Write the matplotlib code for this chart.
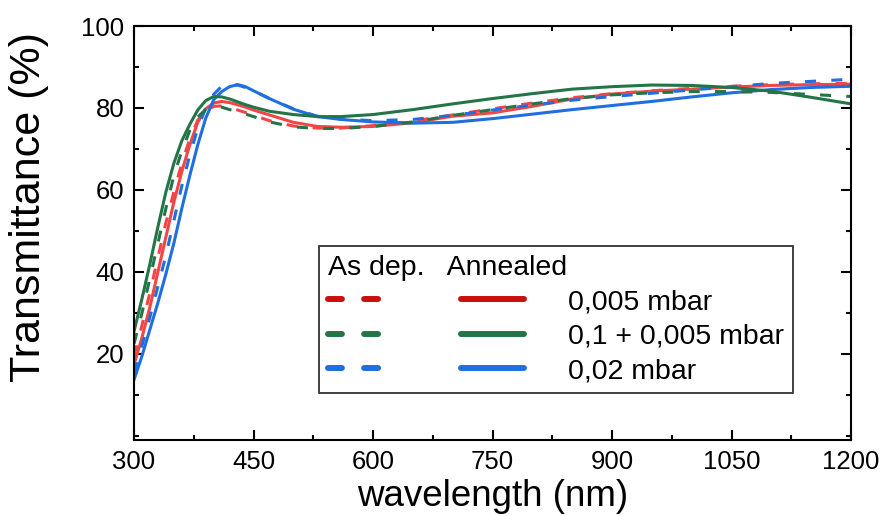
import matplotlib
matplotlib.use('Agg')
import matplotlib.pyplot as plt
from matplotlib.lines import Line2D
from matplotlib.legend_handler import HandlerTuple
from matplotlib.ticker import MultipleLocator

plt.rcParams['font.family'] = ['Liberation Sans', 'DejaVu Sans']

# wavelength grid (nm)
wavelength = [300, 310, 320, 330, 340, 350, 360, 370, 380, 390, 400, 410, 420, 430, 440, 450,
              470, 500, 530, 560, 600, 650, 700, 750, 800, 850, 900, 950, 1000, 1050, 1100, 1150, 1200]

# as deposited (dashed)
asdep_005 = [19.5, 27, 35, 43.5, 52, 59.5, 66.5, 72.5, 77, 79.3, 80.4, 80.5, 80.1, 79.5, 78.9, 78.2,
             76.9, 75.6, 75.1, 75.1, 75.7, 76.8, 78.3, 79.8, 81.2, 82.5, 83.5, 84.2, 84.8, 85.3, 85.7, 85.9, 86]
asdep_01 = [22.5, 30, 38.5, 47, 55.5, 63.5, 69.5, 74.5, 77.8, 79.6, 80.3, 80.2, 79.6, 79.2, 78.5, 77.9,
            76.6, 75.4, 75, 75, 75.5, 76.6, 78.2, 79.6, 81, 82.3, 83.2, 83.7, 84, 84, 83.8, 83.3, 82.8]
asdep_002 = [15.4, 22, 29, 36.5, 44, 52.5, 61, 68.5, 75, 80, 83.3, 85.3, 85.7, 85.6, 85, 84.2,
             82.3, 79.8, 78, 77.3, 76.9, 77.2, 78.2, 79.5, 80.7, 81.9, 82.8, 83.6, 84.4, 85.2, 86, 86.5, 87]

# annealed (solid)
ann_005 = [17.4, 24, 31.5, 40, 48.5, 57, 64.5, 71, 76.5, 79.8, 81.2, 81.6, 81.3, 80.8, 80.2, 79.5,
           78.3, 76.5, 75.5, 75.3, 75.5, 76.4, 78, 78.8, 80.4, 82.2, 83.4, 84.1, 84.6, 85.1, 85.5, 85.7, 85.8]
ann_01 = [25.5, 33.5, 42, 51, 59.5, 66.5, 72, 76, 79.5, 81.8, 82.8, 82.7, 82.2, 81.5, 80.8, 80.2,
          79.2, 78.4, 77.9, 77.9, 78.4, 79.6, 81, 82.3, 83.5, 84.6, 85.2, 85.6, 85.5, 85, 84.1, 82.6, 81]
ann_002 = [13.7, 19.5, 26, 32.5, 39.5, 47, 55.5, 63.5, 71, 77.5, 82, 84, 85.2, 85.7, 85.2, 84.2,
           82.3, 79.7, 77.9, 77.2, 76.6, 76.3, 76.5, 77.4, 78.5, 79.6, 80.6, 81.6, 82.7, 83.7, 84.5, 85, 85.3]

labels = ['0,005 mbar', '0,1 + 0,005 mbar', '0,02 mbar']
plot_colors = ['#f24646', '#237548', '#1f6fe0']
legend_colors = ['#c81010', '#237548', '#1f6fe0']

fig = plt.figure(figsize=(8.84, 5.16), dpi=100)
ax = fig.add_axes([0.1516, 0.1473, 0.8111, 0.8023])

dash = (0, (3.6, 5.0))
ax.plot(wavelength, asdep_005, color=plot_colors[0], lw=2.2, linestyle=dash)
ax.plot(wavelength, ann_005, color=plot_colors[0], lw=2.2)
ax.plot(wavelength, ann_002, color=plot_colors[2], lw=2.2)
ax.plot(wavelength, asdep_002, color=plot_colors[2], lw=2.2, linestyle=dash)
ax.plot(wavelength, ann_01, color=plot_colors[1], lw=2.2)
ax.plot(wavelength, asdep_01, color=plot_colors[1], lw=2.2, linestyle=dash)

ax.set_xlim(300, 1200)
ax.set_ylim(-1, 100)
ax.set_xticks([300, 450, 600, 750, 900, 1050, 1200])
ax.set_yticks([20, 40, 60, 80, 100])
ax.xaxis.set_minor_locator(MultipleLocator(75))
ax.yaxis.set_minor_locator(MultipleLocator(10))
ax.tick_params(which='both', direction='in', top=True, right=True, width=1.5, labelsize=18.5, pad=7)
ax.tick_params(which='major', length=7)
ax.tick_params(which='minor', length=3.6)
for s in ax.spines.values():
    s.set_linewidth(1.5)

ax.set_xlabel('wavelength (nm)', fontsize=26.5, labelpad=4)
ax.set_ylabel('Transmittance (%)', fontsize=31)
ax.yaxis.set_label_coords(-0.118, 0.562)

# legend: dashed + solid handle pairs
handles = []
for c in legend_colors:
    d = Line2D([], [], color=c, lw=4.3, linestyle=(0, (2.33, 3.72)), dash_capstyle='round')
    s = Line2D([], [], color=c, lw=4.3, solid_capstyle='round')
    handles.append((d, s))

leg = ax.legend(handles, labels, handler_map={tuple: HandlerTuple(ndivide=None, pad=2.5)},
                title='As dep.   Annealed', alignment='left', title_fontsize=20.5, fontsize=20.5,
                handlelength=6.9, handletextpad=1.55, labelspacing=0.3, borderpad=0.3,
                fancybox=False, edgecolor='#333333', framealpha=1,
                loc='lower left', bbox_to_anchor=(0.258, 0.1135), borderaxespad=0)
leg.get_frame().set_linewidth(1.3)

fig.savefig('out.png', dpi=100)
